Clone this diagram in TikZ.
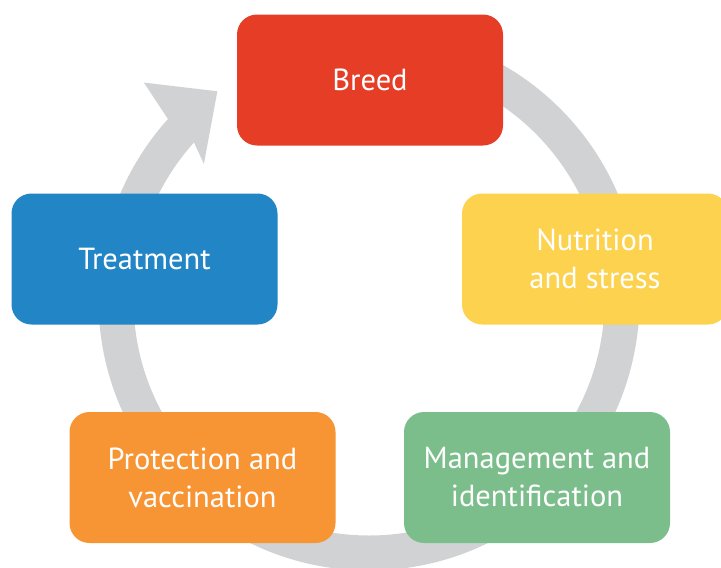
\documentclass[tikz,border=0pt]{standalone}
\usepackage{fontspec}
\setmainfont{PT Sans}
\definecolor{breedred}{RGB}{229,61,38}
\definecolor{treatblue}{RGB}{34,133,198}
\definecolor{nutryellow}{RGB}{253,210,78}
\definecolor{protorange}{RGB}{247,148,51}
\definecolor{mangreen}{RGB}{123,190,140}
\definecolor{ringgray}{RGB}{209,210,212}
\begin{document}
\begin{tikzpicture}[x=1pt,y=-1pt,
  stage/.style={rounded corners=20pt,minimum width=266pt,minimum height=131pt,inner sep=0pt,
    text=white,align=center,font=\fontsize{30.5}{38}\selectfont}]

\useasboundingbox (0,0) rectangle (721,568);
\coordinate (C) at (369,300);

% ring with arrowhead
\draw[color=ringgray,line width=35pt] ([shift={(-90:253)}]C) arc[start angle=-90,end angle=223,radius=253];
\fill[color=ringgray] ([shift={(224:313)}]C) -- ([shift={(234:258)}]C) -- ([shift={(219.5:214)}]C)
   -- ([shift={(222:235.5)}]C) -- ([shift={(222:270.5)}]C) -- cycle;

% stages
\node[stage,fill=breedred] (breed) at (370,80) {Breed};
\node[stage,fill=nutryellow] (nutr) at (595,259) {Nutrition\\and stress};
\node[stage,fill=mangreen] (mgmt) at (537,477.5) {Management and\\identification};
\node[stage,fill=protorange] (prot) at (202.5,477.5) {Protection and\\vaccination};
\node[stage,fill=treatblue] (treat) at (144.5,259) {Treatment};

\end{tikzpicture}
\end{document}
